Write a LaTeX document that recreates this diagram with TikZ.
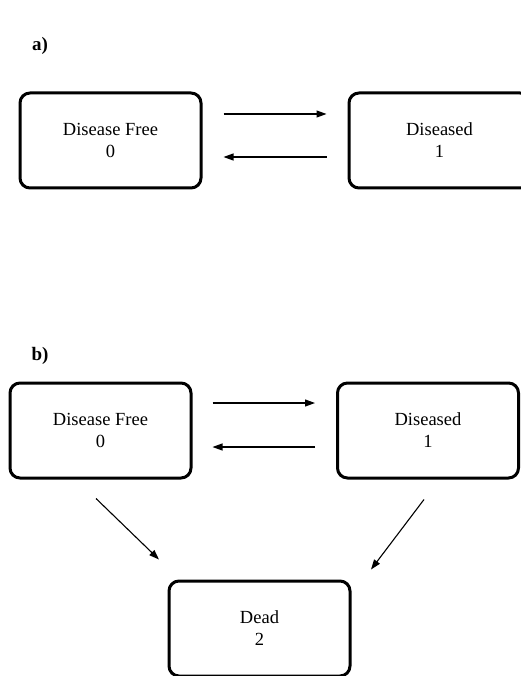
\documentclass[tikz,border=0pt]{standalone}
\usepackage{fontspec}
\setmainfont{Liberation Serif}
\usetikzlibrary{arrows.meta,positioning}

\begin{document}
\begin{tikzpicture}[x=1pt,y=-1pt,
    statebox/.style={draw,line width=3pt,rounded corners=10pt,
      minimum width=181pt,minimum height=95pt,align=center,
      font=\fontsize{18.5}{22}\selectfont},
    trans/.style={line width=1.1pt,-{Triangle[length=10pt,width=7pt]}},
    panel/.style={font=\fontsize{19}{22}\selectfont\bfseries}]
        \useasboundingbox (0,0) rectangle (520,676);
        % a)
        \node[panel] (La) at (40,46) {a)};
        \node[statebox] (A0) at (110.5,140.5) {Disease Free\\0};
        \node[statebox] (A1) at (439.5,140.5) {Diseased\\1};
        \draw [trans,shorten <=21pt,shorten >=21pt] ([yshift=26.5pt]A0.east) -- ([yshift=26.5pt]A1.west);
        \draw [trans,shorten <=21pt,shorten >=21pt] ([yshift=-16.5pt]A1.west) -- ([yshift=-16.5pt]A0.east);
        % b)
        \node[panel] (Lb) at (40,356) {b)};
        \node[statebox] (B0) at (100.5,430.5) {Disease Free\\0};
        \node[statebox] (B1) at (428,430.5) {Diseased\\1};
        \node[statebox] (B2) at (259.5,628.5) {Dead\\2};
        \draw [trans,shorten <=20pt,shorten >=21pt] ([yshift=27.5pt]B0.east) -- ([yshift=27.5pt]B1.west);
        \draw [trans,shorten <=21pt,shorten >=20pt] ([yshift=-16.5pt]B1.west) -- ([yshift=-16.5pt]B0.east);
        \draw [trans] ([shift={(-4.5,19)}]B0.south) -- ([shift={(-100.5,-20)}]B2.north);
        \draw [trans] ([shift={(-4,20)}]B1.south) -- ([shift={(111.5,-10)}]B2.north);
\end{tikzpicture}
\end{document}
